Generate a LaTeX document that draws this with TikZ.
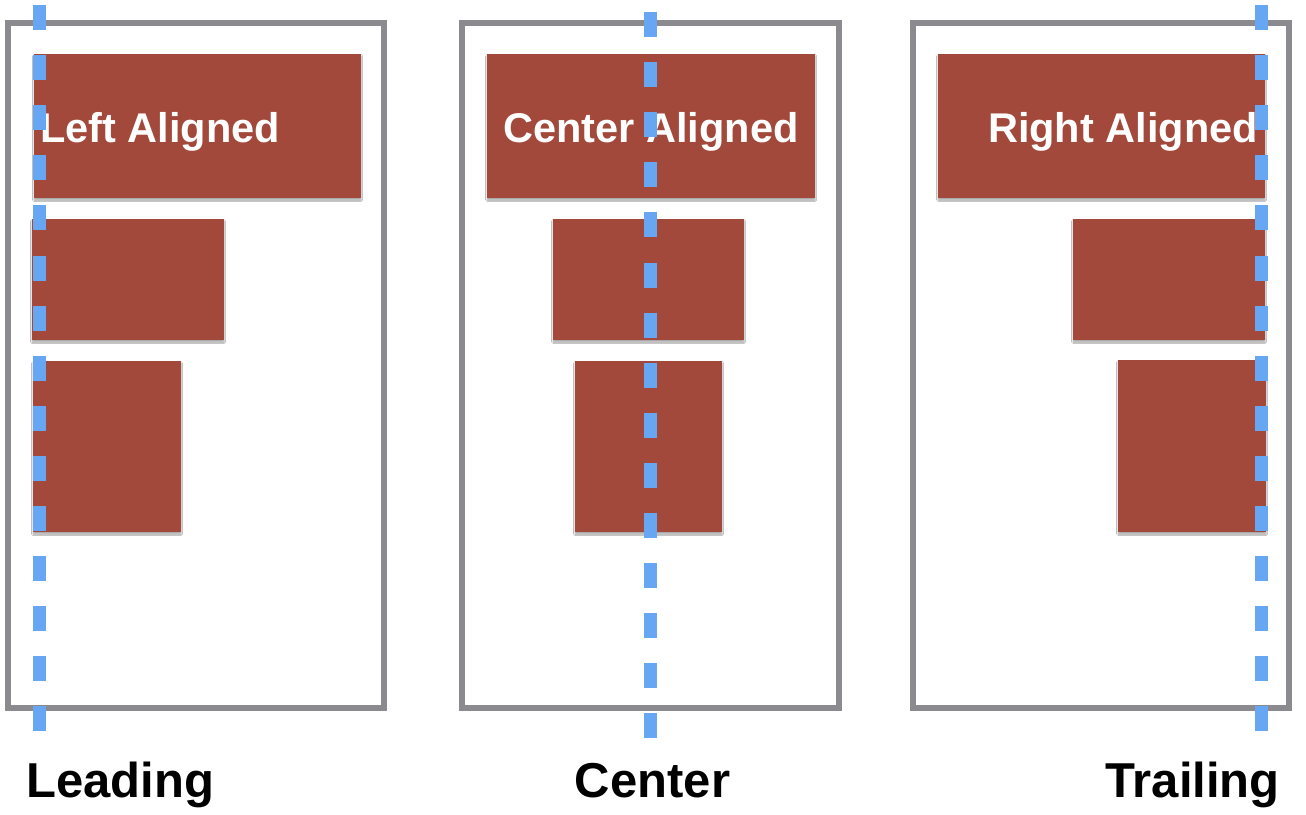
\documentclass[tikz,border=0pt]{standalone}
\usepackage{fontspec}
\setmainfont{Liberation Sans}
\usetikzlibrary{shadows.blur}
\definecolor{framegray}{HTML}{8A8A8F}
\definecolor{brick}{HTML}{A3493B}
\definecolor{guideblue}{HTML}{66A6F2}
\tikzset{
  frame/.style={draw=framegray, line width=6pt},
  brickbox/.style={fill=brick, blur shadow={shadow xshift=0pt, shadow yshift=-2pt, shadow blur radius=1.5pt, shadow opacity=35}},
  boxtext/.style={inner sep=0pt, text=white, font=\bfseries\fontsize{41.5}{48}\selectfont},
  caption/.style={inner sep=0pt, text=black, font=\bfseries\fontsize{49}{58}\selectfont},
  guide/.style={draw=guideblue, line width=13pt, line cap=butt, dash pattern=on 25pt off 25.1pt}
}
\begin{document}
\begin{tikzpicture}[x=1pt, y=-1pt]
\useasboundingbox (0,0) rectangle (1306,814);
\fill[white] (0,0) rectangle (1306,814);
% frames
\draw[frame] (8,23) rectangle (384,707.5);
\draw[frame] (462,23) rectangle (838.5,708);
\draw[frame] (913,23) rectangle (1289,708);
% left column
\fill[brickbox] (34,54) rectangle (361,198);
\fill[brickbox] (32,219) rectangle (224,340);
\fill[brickbox] (33,361) rectangle (181,532);
% center column
\fill[brickbox] (487,54) rectangle (815,198);
\fill[brickbox] (553,219) rectangle (744,340);
\fill[brickbox] (575,361) rectangle (722,532);
% right column
\fill[brickbox] (938,54) rectangle (1265,198);
\fill[brickbox] (1073,219) rectangle (1265,340);
\fill[brickbox] (1118,360) rectangle (1266,532);
% texts
\node[boxtext, anchor=base west] (tl) at (40,142) {Left Aligned};
\node[boxtext, anchor=base] (tc) at (651,142) {Center Aligned};
\node[boxtext, anchor=base east] (tr) at (1258,142) {Right Aligned};
% guides
\coordinate (g1a) at (39.5,5);
\coordinate (g1b) at (39.5,731);
\coordinate (g2a) at (650.5,12);
\coordinate (g2b) at (650.5,738);
\coordinate (g3a) at (1261.5,5);
\coordinate (g3b) at (1261.5,732);
\draw[guide] (g1a) -- (g1b);
\draw[guide] (g2a) -- (g2b);
\draw[guide] (g3a) -- (g3b);
% captions
\node[caption, anchor=base west] (cl) at (26,797) {Leading};
\node[caption, anchor=base] (cc) at (652.5,797) {Center};
\node[caption, anchor=base east] (cr) at (1280,797) {Trailing};
\end{tikzpicture}
\end{document}
